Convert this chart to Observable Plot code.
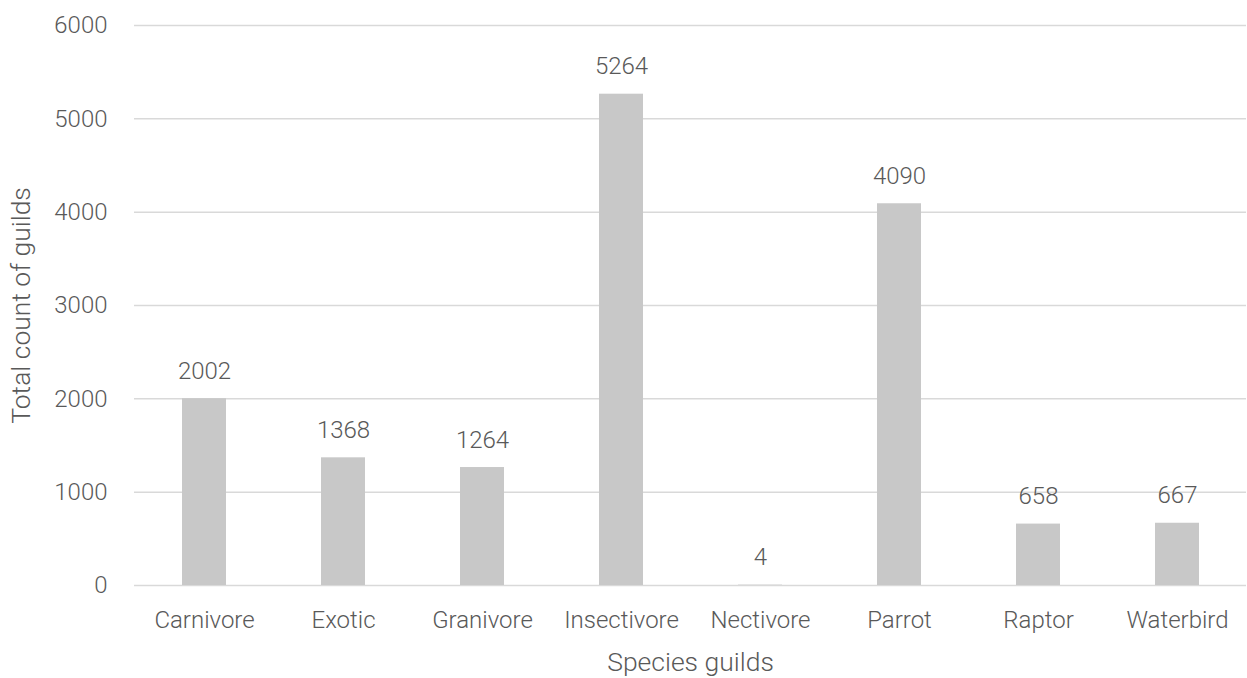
<!DOCTYPE html>
<html>
<head>
<meta charset="utf-8">
<script src="https://cdn.jsdelivr.net/npm/d3@7"></script>
<script src="https://cdn.jsdelivr.net/npm/@observablehq/plot@0.6"></script>
<style>
  html, body { margin: 0; padding: 0; background: #ffffff; }
  #chart { width: 1247px; height: 678px; }
</style>
</head>
<body>
<div id="chart"></div>
<script>
const guilds = ["Carnivore", "Exotic", "Granivore", "Insectivore", "Nectivore", "Parrot", "Raptor", "Waterbird"];
const counts = [2002, 1368, 1264, 5264, 4, 4090, 658, 667];
const yTicks = [0, 1000, 2000, 3000, 4000, 5000, 6000];
const xTitle = "Species guilds";
const yTitle = "Total count of guilds";

const data = guilds.map((g, i) => ({guild: g, count: counts[i]}));

const textColor = "#595959";

const chart = Plot.plot({
  width: 1247,
  height: 678,
  marginLeft: 134,
  marginRight: 1,
  marginTop: 25,
  marginBottom: 93,
  style: {
    fontFamily: "'Roboto Light', Roboto, 'Open Sans', sans-serif",
    fontSize: "24px",
    fontWeight: 300,
    color: textColor,
    background: "#ffffff",
    overflow: "visible"
  },
  x: {domain: guilds, paddingInner: 0.684, paddingOuter: 0.342, label: null},
  y: {domain: [0, 6000], label: null},
  marks: [
    Plot.gridY(yTicks, {stroke: "#d9d9d9", strokeOpacity: 1, strokeWidth: 1.5}),
    Plot.barY(data, {x: "guild", y: "count", fill: "#c8c8c8"}),
    Plot.text(data, {x: "guild", y: "count", text: d => String(d.count), dy: -20, lineAnchor: "bottom", fill: textColor, fontSize: 24}),
    Plot.axisY(yTicks, {tickSize: 0, tickPadding: 27, tickFormat: d => String(d), label: null, fill: textColor, fontSize: 24}),
    Plot.axisY({label: yTitle, ticks: [], tickSize: 0, labelAnchor: "center", labelArrow: "none", labelOffset: 123, fill: textColor, fontSize: 26.5}),
    Plot.axisX({tickSize: 0, tickPadding: 25, label: null, fill: textColor, fontSize: 24}),
    Plot.axisX({label: xTitle, ticks: [], tickSize: 0, labelAnchor: "center", labelArrow: "none", labelOffset: 85, fill: textColor, fontSize: 26.5})
  ]
});

document.getElementById("chart").appendChild(chart);
</script>
</body>
</html>
